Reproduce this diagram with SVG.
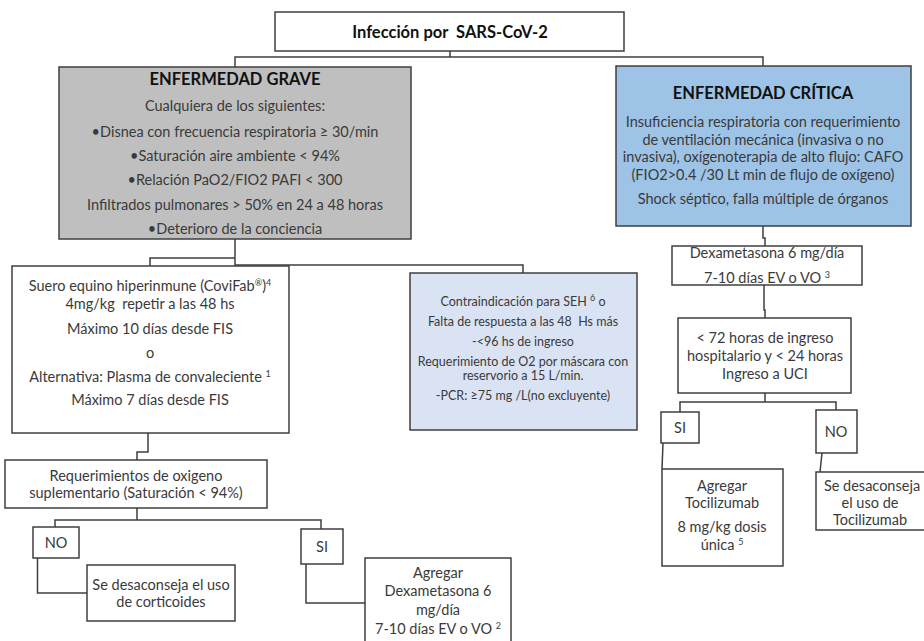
<svg xmlns="http://www.w3.org/2000/svg" width="924" height="641" viewBox="0 0 924 641">
<style>
text{font-family:Lato,"Liberation Sans",sans-serif;fill:#3a3a3a;font-size:14.5px;text-anchor:middle}
.b{stroke:#3f3f3f;stroke-width:1.5;fill:#fff}
.t{font-weight:bold;fill:#111;font-size:16.5px}
.s{font-size:12.5px}
.c{fill:none;stroke:#3f3f3f;stroke-width:1.5}
.sup{font-size:9px}
</style>
<rect width="924" height="641" fill="#fff"/>
<g id="connectors" class="c">
<path d="M450,51V57M235,67V57H763V66"/>
<path d="M235,239V265H523V273M235,258H150V266"/>
<path d="M148,433V452H137V460"/>
<path d="M137,508V520M55,527V520H321V529"/>
<path d="M37.5,558V593H87"/>
<path d="M306,564V603H365"/>
<path d="M763,226V238H765V246"/>
<path d="M764,285V310H765V318"/>
<path d="M765,393V402M680,412V402H836V410"/>
<path d="M663,443L662,469"/>
<path d="M822,453L820,472"/>
</g>
<g id="n-infeccion">
<rect class="b" x="275" y="12" width="349" height="39"/>
<text class="t" x="450" y="38">Infección por&#160; SARS-CoV-2</text>
</g>
<g id="n-grave">
<rect class="b" x="59" y="67" width="352" height="172" style="fill:#bfbfbf"/>
<text class="t" x="235" y="85">ENFERMEDAD GRAVE</text>
<text x="235" y="111">Cualquiera de los siguientes:</text>
<text x="235" y="137">•Disnea con frecuencia respiratoria ≥ 30/min</text>
<text x="235" y="161">•Saturación aire ambiente &lt; 94%</text>
<text x="235" y="185">•Relación PaO2/FIO2 PAFI &lt; 300</text>
<text x="235" y="210">Infiltrados pulmonares &gt; 50% en 24 a 48 horas</text>
<text x="235" y="234">•Deterioro de la conciencia</text>
</g>
<g id="n-critica">
<rect class="b" x="616" y="66" width="295" height="160" style="fill:#9dc3e6"/>
<text class="t" x="763" y="99">ENFERMEDAD CRÍTICA</text>
<text x="763" y="127">Insuficiencia respiratoria con requerimiento</text>
<text x="763" y="145">de ventilación mecánica (invasiva o no</text>
<text x="763" y="162">invasiva), oxígenoterapia de alto flujo: CAFO</text>
<text x="763" y="180">(FIO2&gt;0.4 /30 Lt min de flujo de oxígeno)</text>
<text x="763" y="204">Shock séptico, falla múltiple de órganos</text>
</g>
<g id="n-suero">
<rect class="b" x="12" y="266" width="277" height="167"/>
<text x="150" y="291">Suero equino hiperinmune (CoviFab<tspan class="sup" baseline-shift="super">®</tspan>)<tspan class="sup" baseline-shift="super">4</tspan></text>
<text x="150" y="309">4mg/kg&#160; repetir a las 48 hs</text>
<text x="150" y="334">Máximo 10 días desde FIS</text>
<text x="150" y="358">o</text>
<text x="150" y="382">Alternativa: Plasma de convaleciente <tspan class="sup" baseline-shift="super">1</tspan></text>
<text x="150" y="405">Máximo 7 días desde FIS</text>
</g>
<g id="n-contra">
<rect class="b" x="410" y="273" width="227" height="157" style="fill:#dae3f3"/>
<text class="s" x="523" y="306">Contraindicación para SEH <tspan class="sup" baseline-shift="super">6</tspan> o</text>
<text class="s" x="523" y="326">Falta de respuesta a las 48&#160; Hs más</text>
<text class="s" x="523" y="346">-&lt;96 hs de ingreso</text>
<text class="s" x="523" y="366">Requerimiento de O2 por máscara con</text>
<text class="s" x="523" y="380">reservorio a 15 L/min.</text>
<text class="s" x="523" y="400">-PCR: ≥75 mg /L(no excluyente)</text>
</g>
<g id="n-dexa-critica">
<rect class="b" x="672" y="246" width="190" height="39"/>
<text x="767" y="258">Dexametasona 6 mg/día</text>
<text x="767" y="283">7-10 días EV o VO <tspan class="sup" baseline-shift="super">3</tspan></text>
</g>
<g id="n-72h">
<rect class="b" x="678" y="318" width="173" height="75"/>
<text x="765" y="343">&lt; 72 horas de ingreso</text>
<text x="765" y="361">hospitalario y &lt; 24 horas</text>
<text x="765" y="379">Ingreso a UCI</text>
</g>
<g id="n-si-critica">
<rect class="b" x="661" y="412" width="38" height="31"/>
<text x="680" y="433">SI</text>
</g>
<g id="n-no-critica">
<rect class="b" x="816" y="410" width="41" height="43"/>
<text x="836" y="437">NO</text>
</g>
<g id="n-tocilizumab">
<rect class="b" x="662" y="469" width="121" height="97"/>
<text x="722" y="491">Agregar</text>
<text x="722" y="508">Tocilizumab</text>
<text x="722" y="532">8 mg/kg dosis</text>
<text x="722" y="550">única <tspan class="sup" baseline-shift="super">5</tspan></text>
</g>
<g id="n-no-tocilizumab">
<rect class="b" x="816" y="472" width="120" height="58"/>
<text x="872" y="491">Se desaconseja</text>
<text x="870" y="508">el uso de</text>
<text x="870" y="525">Tocilizumab</text>
</g>
<g id="n-requerimientos">
<rect class="b" x="5" y="460" width="262" height="48"/>
<text x="136" y="481">Requerimientos de oxigeno</text>
<text x="136" y="498">suplementario (Saturación &lt; 94%)</text>
</g>
<g id="n-no-grave">
<rect class="b" x="33" y="527" width="46" height="31"/>
<text x="56" y="548">NO</text>
</g>
<g id="n-si-grave">
<rect class="b" x="301" y="529" width="42" height="35"/>
<text x="322" y="552">SI</text>
</g>
<g id="n-corticoides">
<rect class="b" x="87" y="565" width="148" height="56"/>
<text x="161" y="590">Se desaconseja el uso</text>
<text x="161" y="607">de corticoides</text>
</g>
<g id="n-dexa-grave">
<rect class="b" x="365" y="558" width="146" height="100"/>
<text x="438" y="578">Agregar</text>
<text x="438" y="596">Dexametasona 6</text>
<text x="438" y="615">mg/día</text>
<text x="438" y="634">7-10 días EV o VO <tspan class="sup" baseline-shift="super">2</tspan></text>
</g>
</svg>
